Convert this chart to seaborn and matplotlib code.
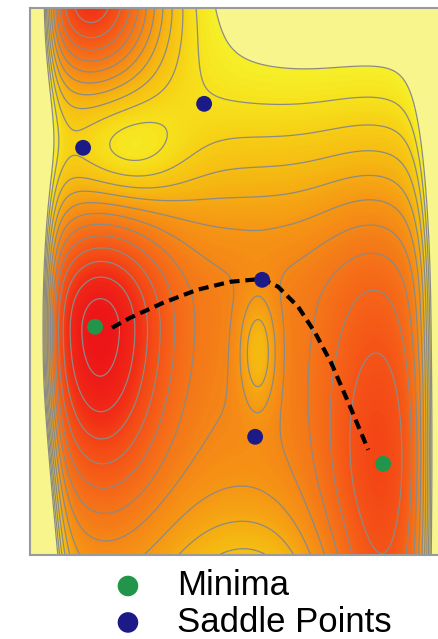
import numpy as np
import matplotlib
matplotlib.use("Agg")
import matplotlib.pyplot as plt
from matplotlib.colors import LinearSegmentedColormap
import seaborn as sns

# Energy surface: plateau level plus wells (negative) and bumps (positive)
# centres / depths / widths, in axis units
plateau = 13.0
term_x = [3.731, 1.494, 1.417, 5.969, 1.990, 4.009, 3.886, 5.892]
term_y = [5.768, 5.219, 12.308, 1.654, 8.990, 4.776, -0.456, 12.835]
term_amp = [-7.0, -7.6, -11.4, -5.4, 2.7, 3.0, 2.8, 1.2]
term_sx = [3.858, 0.787, 0.849, 0.772, 0.64, 0.20, 0.926, 1.70]
term_sy_up = [2.743, 1.772, 1.435, 4.15, 0.80, 0.844, 1.266, 1.69]
term_sy_down = [8.44, 2.743, 1.435, 6.33, 0.80, 0.844, 1.266, 1.69]

# steep walls on the left and right
wall_left = dict(x=0.691, turn=4.186, slope=0.0418, width=0.123, height=8.6)
wall_right = dict(x=6.694, width=0.139, height=7.5)

# stationary points
minima_x = [1.494, 5.938]
minima_y = [5.304, 2.413]
saddle_x = [1.309, 3.176, 4.071, 3.963]
saddle_y = [9.080, 10.008, 6.295, 2.983]

# reaction path between the two minima
path_x = [1.756, 2.034, 2.543, 3.068, 3.577, 4.071, 4.318, 4.627, 4.889, 5.136, 5.429, 5.707]
path_y = [5.283, 5.494, 5.810, 6.084, 6.253, 6.316, 6.148, 5.726, 5.177, 4.544, 3.616, 2.709]

# colour anchors (energy level, colour)
color_levels = [-0.5, 1.0, 2.5, 4.0, 5.5, 7.0, 8.5, 10.0, 11.0, 12.0]
color_list = ["#ec1418", "#f02816", "#f44b16", "#f56418", "#f47d18", "#f59614",
              "#f5b412", "#f6cd14", "#f6e11c", "#f6f028"]
over_color = "#f8f58c"
line_levels = list(range(0, 13))

sns.set_style("ticks")
plt.rcParams["font.family"] = ["Liberation Sans", "DejaVu Sans"]

# Build the surface on a grid
gx = np.linspace(0.49, 7.0, 420)
gy = np.linspace(0.49, 12.03, 760)
X, Y = np.meshgrid(gx, gy)
E = np.full_like(X, plateau)
for cx, cy, a, sx, su, sd in zip(term_x, term_y, term_amp, term_sx, term_sy_up, term_sy_down):
    sy = np.where(Y > cy, su, sd)
    E += a * np.exp(-0.5 * (((X - cx) / sx) ** 2 + ((Y - cy) / sy) ** 2))
left_edge = wall_left["x"] + wall_left["slope"] * 0.3 * np.logaddexp(0, (wall_left["turn"] - Y) / 0.3)
E += wall_left["height"] * np.exp(-(X - left_edge) / wall_left["width"])
E += wall_right["height"] * np.exp((X - wall_right["x"]) / wall_right["width"])

lo, hi = color_levels[0], color_levels[-1]
cmap = LinearSegmentedColormap.from_list(
    "pes", [((v - lo) / (hi - lo), c) for v, c in zip(color_levels, color_list)])
cmap.set_over(over_color)
cmap.set_under(color_list[0])

fig = plt.figure(figsize=(4.38, 6.39), dpi=100)
ax = fig.add_axes([0.0685, 0.1315, 0.9635, 0.856])

ax.contourf(X, Y, E, levels=np.linspace(lo, hi, 126), cmap=cmap, extend="both")
ax.contour(X, Y, E, levels=line_levels, colors="#8c8a84", linewidths=0.9)

sns.lineplot(x=path_x, y=path_y, sort=False, estimator=None, color="black",
             lw=3, linestyle=(0, (2.4, 1.4)), ax=ax, zorder=4)
sns.scatterplot(x=minima_x, y=minima_y, color="#21964a", s=130, edgecolor="none",
                ax=ax, label="Minima", zorder=5)
sns.scatterplot(x=saddle_x, y=saddle_y, color="#1c1a86", s=130, edgecolor="none",
                ax=ax, label="Saddle Points", zorder=5)

ax.set_xlim(0.49, 7.0)
ax.set_ylim(0.49, 12.03)
ax.set_xticks(range(1, 8))
ax.set_yticks(range(1, 13))
ax.tick_params(direction="in", length=4, width=1, color="#555555",
               top=True, bottom=True, left=True, right=False,
               labelleft=False, labelbottom=False)
for sp in ax.spines.values():
    sp.set_color("#9a9a9a")
    sp.set_linewidth(1.5)

handles, labels = ax.get_legend_handles_labels()
ax.get_legend().remove()
leg = fig.legend(handles, labels, loc="upper left", bbox_to_anchor=(110.6 / 438, 0.1094),
                 frameon=False, fontsize=25, markerscale=1.3, handlelength=1.0,
                 handletextpad=0.91, labelspacing=0.1, borderpad=0, borderaxespad=0)
for t in leg.get_texts():
    t.set_color("black")

fig.savefig("out.png", dpi=100)
